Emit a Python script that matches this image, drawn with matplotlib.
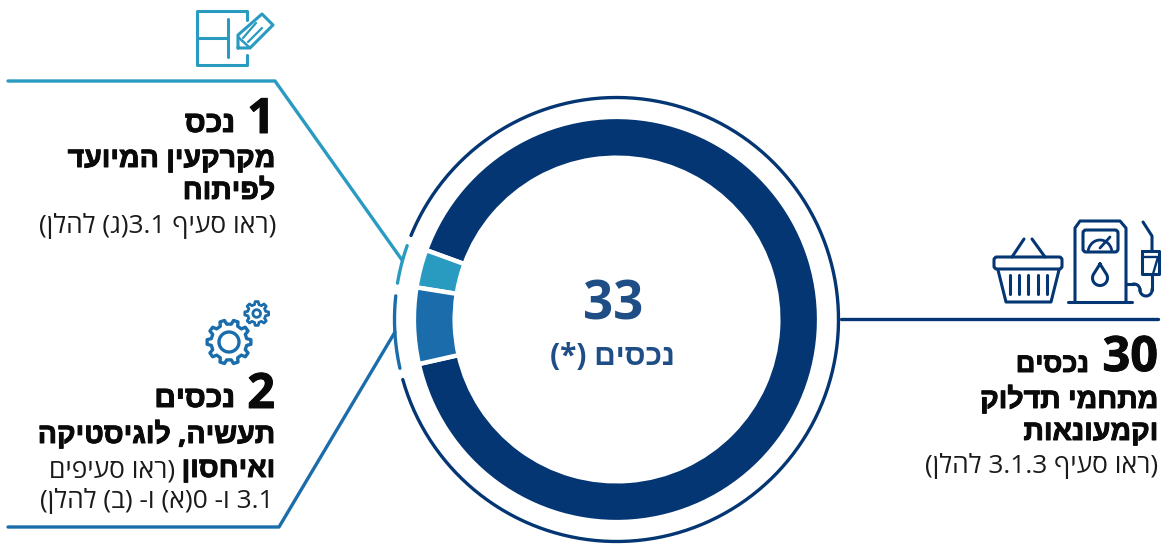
import re
import numpy as np
import matplotlib
matplotlib.use("Agg")
import matplotlib.pyplot as plt
import matplotlib.patheffects as pe
from matplotlib.patches import Polygon, FancyBboxPatch, Circle

# Asset counts per category, in drawing order
categories = ["fuel_and_retail", "development_land", "industry_logistics"]
asset_counts = [30, 1, 2]
ring_colors = ["#043673", "#2A9BC0", "#1A6CAB"]
total_label = "33"

W, H = 1165, 544
CX, CY = 616.5, 319.5
R_OUT, R_IN, R_THIN = 202.6, 161.8, 222
START_ANGLE = 192.7
# Degrees trimmed from the start and end of each outer arc
arc_trim = [(3.0, 2.2), (0.6, 0.3), (3.0, 0.0)]

plt.rcParams["font.family"] = ["Open Sans", "Liberation Sans", "DejaVu Sans"]

MIRROR = str.maketrans("()", ")(")


def vis(s):
    """Turn reading-order Hebrew into the left-to-right glyph order matplotlib draws."""
    rev = s[::-1].translate(MIRROR)
    return re.sub(r"[0-9][0-9.]*[0-9]|[0-9]", lambda m: m.group(0)[::-1], rev)


fig = plt.figure(figsize=(W / 100, H / 100), dpi=100)
ax = fig.add_axes([0, 0, 1, 1])


def Y(y):
    return H - y


def line(xs, ys, color, lw=2.2, **kw):
    kw.setdefault("solid_capstyle", "round")
    kw.setdefault("solid_joinstyle", "round")
    ax.plot(xs, [Y(v) for v in ys], color=color, lw=lw, **kw)


# Main ring
ax.pie(asset_counts, colors=ring_colors, startangle=START_ANGLE, counterclock=True,
       center=(CX, Y(CY)), radius=R_OUT, frame=True,
       wedgeprops=dict(width=R_OUT - R_IN, edgecolor="white", linewidth=3.2))
ax.set_xlim(0, W)
ax.set_ylim(0, H)
ax.set_aspect("equal")
ax.axis("off")

# Thin outer ring, one arc per category
angle = START_ANGLE
for n, c, (trim0, trim1) in zip(asset_counts, ring_colors, arc_trim):
    sweep = 360 * n / sum(asset_counts)
    th = np.radians(np.linspace(angle + trim0, angle + sweep - trim1, 300))
    ax.plot(CX + R_THIN * np.cos(th), Y(CY) + R_THIN * np.sin(th), color=c, lw=2.4,
            solid_capstyle="round")
    angle += sweep

# Leader lines
line([8, 275, 402], [81, 81, 260], ring_colors[1], lw=2.4)
line([8, 279, 395], [527, 527, 332], ring_colors[2], lw=2.4)
line([841, 1158], [319, 319], ring_colors[0], lw=2.4)

BLACK = "#0a0a0a"
HEAVY = [pe.withStroke(linewidth=0.7, foreground=BLACK)]
BOLD = dict(fontweight="bold", color=BLACK, ha="right", va="baseline", path_effects=HEAVY)
REG = dict(fontweight="normal", color="#1a1a1a", ha="right", va="baseline")


def t(x, y, s, size, **kw):
    return ax.text(x, Y(y), s, fontsize=size, **kw)


# Centre
CENTRE = "#1F4E86"
t(613.5, 320, total_label, 38, color=CENTRE, fontweight="bold", ha="center", va="baseline")
t(612.5, 365, vis("נכסים (*)"), 21.5, color=CENTRE, fontweight="bold", ha="center", va="baseline")

# Development land block
t(275, 133, "1", 35, **BOLD)
t(235, 132, vis("נכס"), 21.5, **BOLD)
t(275, 167, vis("מקרקעין המיועד"), 20.5, **BOLD)
t(275, 199, vis("לפיתוח"), 20.5, **BOLD)
t(276, 233, vis("(ראו סעיף 3.1(ג) להלן)"), 19, **REG)

# Industry block
t(275, 408, "2", 35, **BOLD)
t(235, 407, vis("נכסים"), 21.5, **BOLD)
t(275, 443, vis("תעשיה, לוגיסטיקה"), 20.5, **BOLD)
t(275, 477, vis("ואיחסון"), 20.5, **BOLD)
t(175, 477, vis("(ראו סעיפים"), 19, **REG)
t(274, 508, vis("3.1 ו- 0(א) ו- (ב) להלן)"), 19, **REG)

# Fuel block
t(1158, 371, "30", 35, **BOLD)
t(1089, 372, vis("נכסים"), 19.5, **BOLD)
t(1158, 408, vis("מתחמי תדלוק"), 20.5, **BOLD)
t(1158, 440, vis("וקמעונאות"), 20.5, **BOLD)
t(1158, 473, vis("(ראו סעיף 3.1.3 להלן)"), 19, **REG)

# Plan-and-pencil icon
LB = ring_colors[1]
ICON = 2.2
line([247, 247, 197, 197, 247, 247], [20, 11, 11, 65, 65, 55], LB, lw=ICON)
line([228, 228], [19, 57], LB, lw=ICON)
line([197, 228], [38, 38], LB, lw=ICON)
line([238, 238, 262, 273, 250, 238], [48, 35, 14, 25, 48, 48], LB, lw=ICON)
line([243, 256], [38, 23], LB, lw=1.6)
line([248, 262], [42, 28], LB, lw=1.6)
line([238, 249], [37, 47], LB, lw=1.8)


def gear(cx, cy, r_out, r_root, r_hole, teeth, color, lw):
    step = 2 * np.pi / teeth
    pts = []
    for i in range(teeth):
        a = step * i
        for off, r in [(-0.30, r_root), (-0.17, r_out), (0.17, r_out), (0.30, r_root)]:
            pts.append((cx + r * np.cos(a + off * step), Y(cy) + r * np.sin(a + off * step)))
    ax.add_patch(Polygon(pts, closed=True, fill=False, ec=color, lw=lw, joinstyle="round"))
    ax.add_patch(Circle((cx, Y(cy)), r_hole, fill=False, ec=color, lw=lw))


MB = ring_colors[2]
gear(229, 342, 22, 18, 10, 10, MB, 2.4)
gear(256.7, 313.5, 12, 9.2, 3.8, 8, MB, 2.0)

# Basket icon
NV = ring_colors[0]
ax.add_patch(FancyBboxPatch((994, Y(269)), 68, 12, boxstyle="round,pad=0,rounding_size=3",
                            fill=False, ec=NV, lw=ICON))
line([998, 1006, 1051, 1059], [270, 302, 302, 270], NV, lw=ICON)
for bx in [1010, 1019, 1028, 1038, 1047]:
    line([bx, bx], [275, 294], NV, lw=ICON)
line([1012, 1024], [257, 239], NV, lw=ICON)
line([1045, 1032], [257, 239], NV, lw=ICON)

# Fuel pump icon
line([1075, 1075, 1080, 1120, 1126, 1126], [302, 228, 221, 221, 228, 302], NV, lw=ICON)
line([1068, 1132], [302, 302], NV, lw=ICON)
ax.add_patch(FancyBboxPatch((1083, Y(252)), 35, 22, boxstyle="round,pad=0,rounding_size=3",
                            fill=False, ec=NV, lw=ICON))
th = np.radians(np.linspace(15, 165, 40))
ax.plot(1100 + 12 * np.cos(th), Y(253) + 13 * np.sin(th), color=NV, lw=2.0)
line([1100, 1110], [248, 237], NV, lw=2.0)
dt = np.radians(np.linspace(-215, 35, 50))
ax.plot(np.r_[1100, 1100 + 7.5 * np.cos(dt), 1100],
        np.r_[Y(264), Y(278) + 7.5 * np.sin(dt), Y(264)], color=NV, lw=ICON)
# Hose, split around the nozzle
line([1126, 1134], [284, 284], NV, lw=ICON)
ph = np.radians(np.linspace(90, 0, 20))
ax.plot(1134 + 6 * np.cos(ph), Y(290) + 6 * np.sin(ph), color=NV, lw=ICON)
qh = np.radians(np.linspace(180, 360, 30))
ax.plot(1146 + 6 * np.cos(qh), Y(290) + 6 * np.sin(qh), color=NV, lw=ICON)
line([1152, 1152], [290, 274], NV, lw=ICON)
line([1152, 1152, 1143], [251, 236, 222], NV, lw=ICON)
line([1142, 1142, 1159, 1159, 1142], [251, 274, 274, 251, 251], NV, lw=ICON)
line([1142, 1158, 1153], [257, 257, 274], NV, lw=1.7)

fig.savefig("out.png", dpi=100, facecolor="white")
